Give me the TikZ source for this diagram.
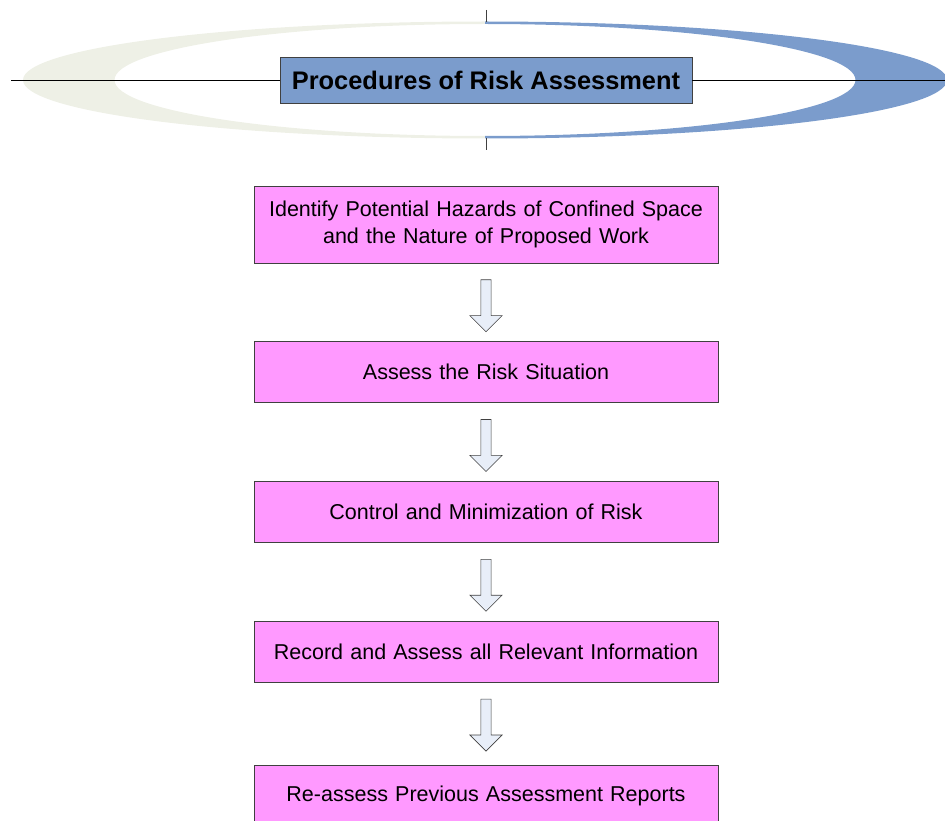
\documentclass[tikz,border=0pt]{standalone}
\usepackage{fontspec}
\setmainfont{Liberation Sans}
\usepackage{tikz}
\usetikzlibrary{calc, positioning, shapes.arrows, shadows}
\definecolor{stepfill}{HTML}{FF99FF}
\definecolor{ringblue}{HTML}{7B9CCC}
\definecolor{ringbeige}{HTML}{EEF0E6}
\definecolor{arrowfill}{HTML}{E8EEF8}
\definecolor{edgegray}{HTML}{404040}
\tikzstyle{stage} = [rectangle, draw=edgegray, line width=0.8pt, fill=stepfill, minimum width=464pt, minimum height=61pt, text width=450pt, align=center, font=\fontsize{21.5}{26.5}\selectfont]
\tikzstyle{heading} = [rectangle, draw=edgegray, line width=0.8pt, fill=ringblue, minimum width=412pt, minimum height=46pt, font=\fontsize{25.4}{28}\selectfont\bfseries, drop shadow={shadow xshift=1.2pt, shadow yshift=-1.2pt, fill=black!60, opacity=1}]
\tikzstyle{flow} = [single arrow, draw=edgegray, line width=0.6pt, fill=arrowfill, rotate=-90, minimum height=52pt, inner xsep=0pt, inner ysep=4.8pt, single arrow head extend=11pt, single arrow tip angle=90]

\begin{document}
\begin{tikzpicture}[x=1pt, y=-1pt]

        \clip (0,0) rectangle (945,821);

        \fill[ringbeige] (485,21.5) arc[start angle=270, end angle=90, x radius=462, y radius=58.5]
            -- (485,136) arc[start angle=90, end angle=270, x radius=370.5, y radius=56] -- cycle;
        \fill[ringblue] (485,21.5) arc[start angle=270, end angle=450, x radius=462, y radius=58.5]
            -- (485,136) arc[start angle=90, end angle=-90, x radius=370.5, y radius=56] -- cycle;

        \coordinate (lineL) at (11,80);
        \coordinate (lineR) at (945,80);
        \coordinate (tickA) at (486,10);
        \coordinate (tickB) at (486,22);
        \coordinate (tickC) at (486,138);
        \coordinate (tickD) at (486,150);

        \node (title) [heading] at (486,80) {Procedures of Risk Assessment};

        \draw[line width=0.8pt] (lineL) -- (title.west);
        \draw[line width=0.8pt] (title.east) -- (lineR);
        \draw[line width=0.6pt, edgegray] (tickA) -- (tickB);
        \draw[line width=0.6pt, edgegray] (tickC) -- (tickD);

        \node (identify) [stage, minimum height=77pt] at (486,224.5) {Identify Potential Hazards of Confined Space\\and the Nature of Proposed Work};
        \node (assess) [stage, below=78pt of identify] {Assess the Risk Situation};
        \node (control) [stage, below=78pt of assess] {Control and Minimization of Risk};
        \node (record) [stage, below=78pt of control] {Record and Assess all Relevant Information};
        \node (reassess) [stage, below=82pt of record] {Re-assess Previous Assessment Reports};

        \node (arrowA) [flow, below=16pt of identify.south, anchor=tail] {};
        \node (arrowB) [flow, below=16pt of assess.south, anchor=tail] {};
        \node (arrowC) [flow, below=16pt of control.south, anchor=tail] {};
        \node (arrowD) [flow, below=16pt of record.south, anchor=tail] {};

    \end{tikzpicture}
\end{document}
